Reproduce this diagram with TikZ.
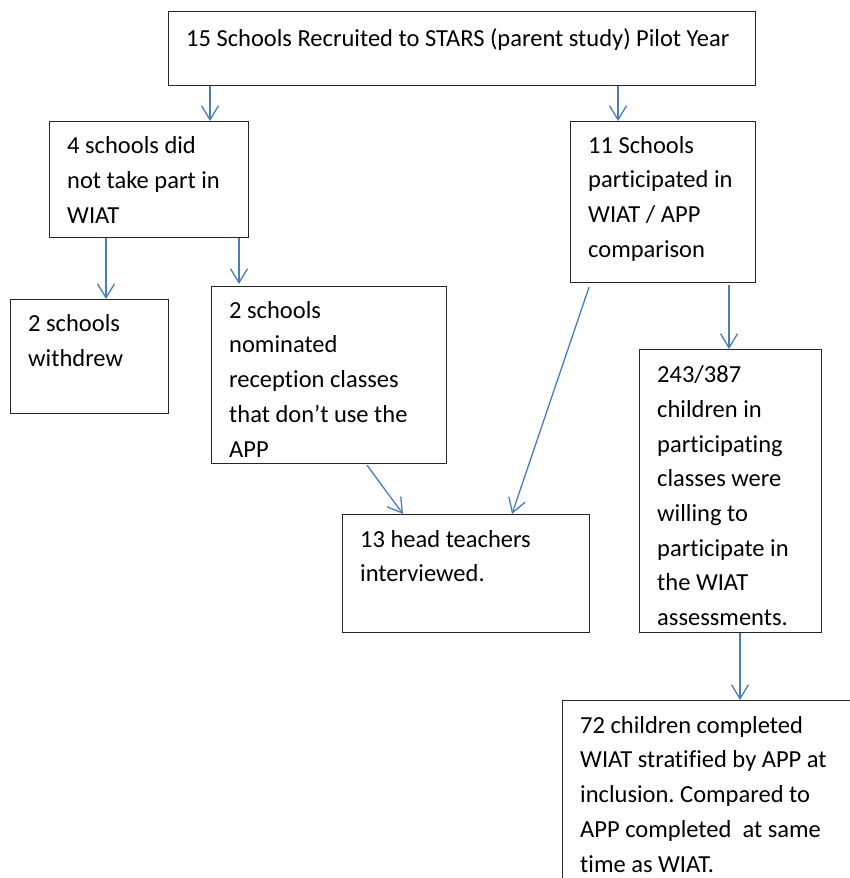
\documentclass[tikz,border=0pt]{standalone}
\usepackage{fontspec}
\setmainfont{Carlito}[Ligatures=NoCommon]
\usetikzlibrary{arrows.meta,positioning}
\definecolor{lineblue}{HTML}{4A7EBB}
\tikzset{
  box/.style={draw=black!85, line width=1.2pt, anchor=north west, inner sep=0pt},
  txt/.style={anchor=north west, align=left, inner sep=0pt, font=\fontsize{24.5}{34.7}\selectfont,
    execute at begin node={\frenchspacing\rule{0pt}{19pt}}},
  arr/.style={lineblue, line width=1.3pt, -{Straight Barb[length=14pt,width=17pt]}}
}
\begin{document}
\begin{tikzpicture}[x=1pt,y=-1pt]
    \useasboundingbox (0,0) rectangle (850,878);
    \clip (0,0) rectangle (850,878);
    % boxes
    \node[box, minimum width=587pt, minimum height=74pt] (recruited) at (168,11) {};
    \node[box, minimum width=199pt, minimum height=116pt] (notpart) at (49,121) {};
    \node[box, minimum width=185pt, minimum height=161pt] (participated) at (570,121) {};
    \node[box, minimum width=158pt, minimum height=114pt] (withdrew) at (10,299) {};
    \node[box, minimum width=235pt, minimum height=177pt] (nominated) at (211,286) {};
    \node[box, minimum width=247pt, minimum height=118pt] (heads) at (342,514) {};
    \node[box, minimum width=182pt, minimum height=283pt] (willing) at (639,349) {};
    \node[box, minimum width=320pt, minimum height=220pt] (completed) at (562,700) {};
    % texts (first baseline about 33pt below the box top)
    \node[txt] (recruited-t) at ([xshift=18pt,yshift=-16pt]recruited.north west) {15 Schools Recruited to STARS (parent study) Pilot Year};
    \node[txt] (notpart-t) at ([xshift=18pt,yshift=-15.5pt]notpart.north west) {4 schools did\\not take part in\\WIAT};
    \node[txt] (participated-t) at ([xshift=18pt,yshift=-15pt]participated.north west) {11 Schools\\participated in\\WIAT / APP\\comparison};
    \node[txt] (withdrew-t) at ([xshift=18pt,yshift=-15.5pt]withdrew.north west) {2 schools\\withdrew};
    \node[txt] (nominated-t) at ([xshift=18pt,yshift=-15pt]nominated.north west) {2 schools\\nominated\\reception classes\\that don’t use the\\APP};
    \node[txt] (heads-t) at ([xshift=18pt,yshift=-16pt]heads.north west) {13 head teachers\\interviewed.};
    \node[txt] (willing-t) at ([xshift=18pt,yshift=-16.5pt]willing.north west) {243/387\\children in\\participating\\classes were\\willing to\\participate in\\the WIAT\\assessments.};
    \node[txt] (completed-t) at ([xshift=18pt,yshift=-16pt]completed.north west) {72 children completed\\WIAT stratified by APP at\\inclusion. Compared to\\APP completed\ \ at same\\time as WIAT.};
    % connectors
    \draw[arr] ([xshift=42pt]recruited.south west) coordinate (a1) -- (a1 |- notpart.north);
    \draw[arr] ([xshift=450pt]recruited.south west) coordinate (a2) -- (a2 |- participated.north);
    \draw[arr] ([xshift=57pt]notpart.south west) coordinate (a3) -- (a3 |- withdrew.north);
    \draw[arr] ([xshift=190pt]notpart.south west) coordinate (a4) -- ([yshift=2pt]a4 |- nominated.north);
    \draw[arr] ([xshift=19pt,yshift=-4pt]participated.south west) -- ([xshift=170pt]heads.north west);
    \draw[arr] ([xshift=156pt,yshift=-1pt]nominated.south west) -- ([xshift=61pt]heads.north west);
    \draw[arr] ([xshift=159pt,yshift=-2pt]participated.south west) coordinate (a7) -- (a7 |- willing.north);
    \draw[arr] ([xshift=101pt]willing.south west) coordinate (a8) -- (a8 |- completed.north);
\end{tikzpicture}
\end{document}
